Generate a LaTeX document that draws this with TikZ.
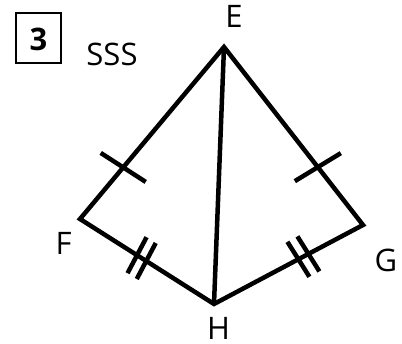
\documentclass[tikz,border=0pt]{standalone}
\usepackage{fontspec}
\setmainfont{Open Sans}
\usetikzlibrary{calc}
\begin{document}
\begin{tikzpicture}[x=1pt,y=-1pt,
  edge/.style={line width=4.5pt,line join=miter},
  tick/.style={line width=4.5pt},
  lbl/.style={inner sep=0pt,font=\fontsize{31}{31}\selectfont}]
\useasboundingbox (0,0) rectangle (402,344);
% vertices
\coordinate (E) at (224,47);
\coordinate (F) at (80,219);
\coordinate (H) at (214,304);
\coordinate (G) at (363,225);
% edges
\draw[edge] (H) -- (F) -- (E) -- (G) -- (H) -- cycle;
\draw[edge] (E) -- (H);
% single ticks
\coordinate (t1) at ($(E)!0.70!(F)$);
\draw[tick] ($(t1)+(-22.5,-14.5)$) -- ($(t1)+(22.5,14.5)$);
\coordinate (t2) at ($(E)!0.675!(G)$);
\draw[tick] ($(t2)+(-23,14)$) -- ($(t2)+(23,-14)$);
% double ticks
\coordinate (d1) at ($(F)!0.46!(H)$);
\foreach \s in {-1,1}{
  \draw[tick] ($(d1)+(\s*4.6,\s*2.9)+(-9.5,18)$) -- ($(d1)+(\s*4.6,\s*2.9)+(9.5,-18)$);
}
\coordinate (d2) at ($(H)!0.6!(G)$);
\foreach \s in {-1,1}{
  \draw[tick] ($(d2)+(\s*5,-\s*2.7)+(-11,-17.5)$) -- ($(d2)+(\s*5,-\s*2.7)+(11,17.5)$);
}
% labels
\node[lbl] (lE) at (234,16) {E};
\node[lbl] (lF) at (63.5,243.5) {F};
\node[lbl] (lG) at (386,260) {G};
\node[lbl] (lH) at (218.5,328) {H};
\node[lbl] (sss) at (112,54) {SSS};
% numbered box
\draw[line width=1.7pt] (15.7,13.3) rectangle (60.7,63.3);
\node[lbl,font=\fontsize{31}{31}\selectfont\bfseries] (num) at (38.5,39) {3};
\end{tikzpicture}
\end{document}
